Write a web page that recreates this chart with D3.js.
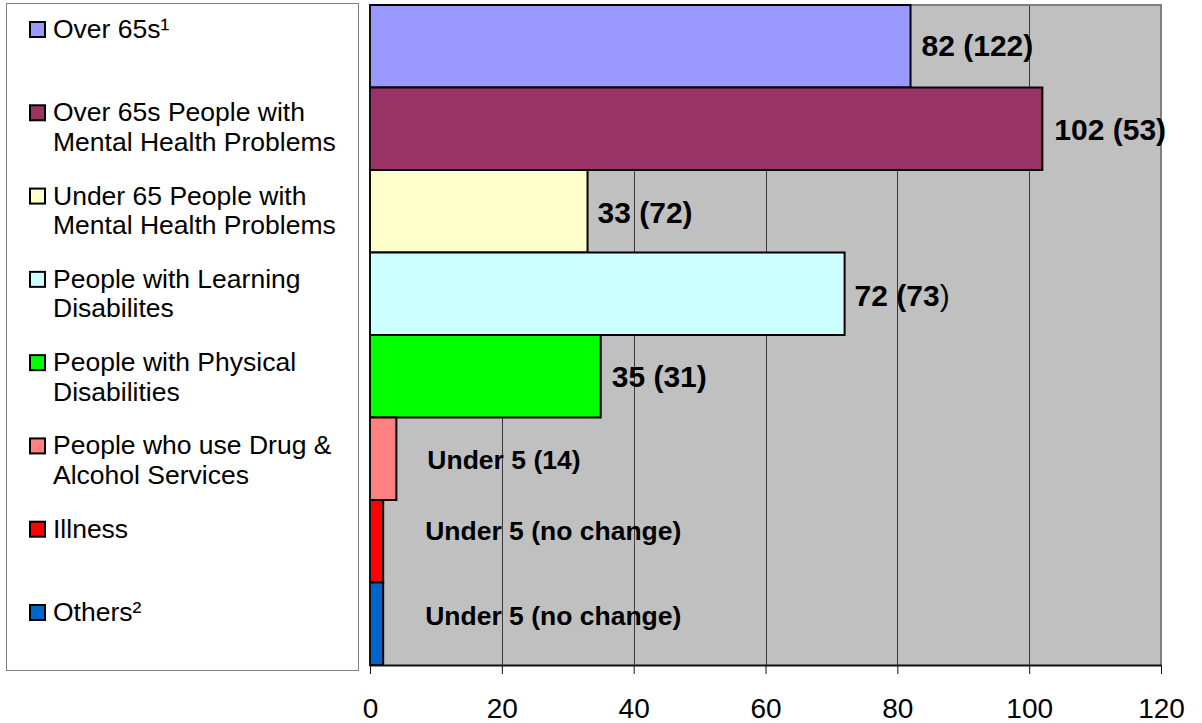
<!DOCTYPE html>
<html>
<head>
<meta charset="utf-8">
<script src="https://cdn.jsdelivr.net/npm/d3@7/dist/d3.min.js"></script>
<style>
  html, body { margin: 0; padding: 0; background: #ffffff; }
  svg { display: block; font-family: "Liberation Sans", Arial, sans-serif; }
</style>
</head>
<body>
<svg id="chart" width="1202" height="723"></svg>
<script>
// Client groups, top to bottom
const categories = [
  "Over 65s\u00B9",
  "Over 65s People with Mental Health Problems",
  "Under 65 People with Mental Health Problems",
  "People with Learning Disabilites",
  "People with Physical Disabilities",
  "People who use Drug & Alcohol Services",
  "Illness",
  "Others\u00B2"
];
// Legend wording, broken into lines
const legendLines = [
  ["Over 65s\u00B9"],
  ["Over 65s People with", "Mental Health Problems"],
  ["Under 65 People with", "Mental Health Problems"],
  ["People with Learning", "Disabilites"],
  ["People with Physical", "Disabilities"],
  ["People who use Drug &", "Alcohol Services"],
  ["Illness"],
  ["Others\u00B2"]
];
// Number of people in each group
const values = [82, 102, 33, 72, 35, 4, 2, 2];
// Bar labels: main text and the bracketed comparison
const labelMain = ["82", "102", "33", "72", "35", "Under 5", "Under 5", "Under 5"];
const labelPrev = ["(122)", "(53)", "(72)", "(73)", "(31)", "(14)", "(no change)", "(no change)"];
const colors = ["#9999FF", "#993366", "#FFFFCC", "#CCFFFF", "#00FF00", "#FF8080", "#FF0000", "#0066CC"];
const tickValues = [0, 20, 40, 60, 80, 100, 120];

// Layout
const plot = { left: 370, right: 1161, top: 5, bottom: 665 };
const legendBox = { x: 6, y: 3, w: 352, h: 667 };
// label nudges [dx from bar end, dy from band centre]
const labelNudge = [[11, -1], [12, 0], [10, 1], [10, 1], [11, 0], [31, 1], [42, -10], [42, -8]];

const svg = d3.select("#chart");

const x = d3.scaleLinear().domain([0, 120]).range([plot.left, plot.right]);
const y = d3.scaleBand().domain(categories).range([plot.top, plot.bottom]).paddingInner(0).paddingOuter(0);

// Plot background
svg.append("rect")
  .attr("x", plot.left).attr("y", plot.top)
  .attr("width", plot.right - plot.left).attr("height", plot.bottom - plot.top)
  .attr("fill", "#C0C0C0");

// Vertical gridlines
svg.append("g")
  .selectAll("line")
  .data(tickValues.filter(v => v > 0 && v < 120))
  .join("line")
  .attr("x1", d => Math.round(x(d)) + 0.5).attr("x2", d => Math.round(x(d)) + 0.5)
  .attr("y1", plot.top).attr("y2", plot.bottom)
  .attr("stroke", "#3a3a3a").attr("stroke-width", 1);

// Plot frame (top and right)
svg.append("path")
  .attr("d", `M${plot.left},${plot.top} H${plot.right} V${plot.bottom}`)
  .attr("fill", "none").attr("stroke", "#808080").attr("stroke-width", 2);

// Bars
svg.append("g")
  .selectAll("rect")
  .data(values)
  .join("rect")
  .attr("x", x(0))
  .attr("y", (d, i) => y(categories[i]))
  .attr("width", d => x(d) - x(0))
  .attr("height", y.bandwidth())
  .attr("fill", (d, i) => colors[i])
  .attr("stroke", "#000").attr("stroke-width", 2);

// Bottom axis
const xAxis = d3.axisBottom(x).tickValues(tickValues).tickSize(9).tickPadding(24).tickSizeOuter(0);
const ax = svg.append("g").attr("transform", `translate(0,${plot.bottom})`).call(xAxis);
ax.select(".domain").attr("stroke", "#111").attr("stroke-width", 2);
ax.selectAll(".tick line").attr("stroke", "#111").attr("stroke-width", 1);
ax.selectAll(".tick text")
  .attr("font-size", 28).attr("font-family", "Liberation Sans, Arial, sans-serif")
  .attr("fill", "#000");

// Left axis line
svg.append("line")
  .attr("x1", plot.left).attr("x2", plot.left)
  .attr("y1", plot.top).attr("y2", plot.bottom)
  .attr("stroke", "#111").attr("stroke-width", 2);

// Bar value labels
const labels = svg.append("g")
  .selectAll("text")
  .data(values)
  .join("text")
  .attr("x", (d, i) => x(d) + labelNudge[i][0])
  .attr("y", (d, i) => y(categories[i]) + y.bandwidth() / 2 + labelNudge[i][1])
  .attr("dominant-baseline", "central")
  .attr("font-weight", "bold")
  .attr("font-size", (d, i) => labelMain[i].startsWith("Under") ? 26.5 : 30)
  .attr("fill", "#000");

labels.each(function(d, i) {
  const t = d3.select(this);
  t.append("tspan").text(labelMain[i] + " ");
  if (i === 3) {
    // closing bracket in regular weight
    t.append("tspan").text(labelPrev[i].slice(0, -1));
    t.append("tspan").attr("font-weight", "normal").text(")");
  } else {
    t.append("tspan").text(labelPrev[i]);
  }
});

// Legend
svg.append("rect")
  .attr("x", legendBox.x + 0.5).attr("y", legendBox.y + 0.5)
  .attr("width", legendBox.w).attr("height", legendBox.h)
  .attr("fill", "#fff").attr("stroke", "#808080").attr("stroke-width", 1);

const legendStep = (621 - 38) / 7;
const legendItems = svg.append("g")
  .selectAll("g")
  .data(categories)
  .join("g")
  .attr("transform", (d, i) => `translate(0,${38 + i * legendStep})`);

legendItems.append("rect")
  .attr("x", 30).attr("y", -16)
  .attr("width", 15).attr("height", 15)
  .attr("fill", (d, i) => colors[i])
  .attr("stroke", "#000").attr("stroke-width", 2);

legendItems.append("text")
  .attr("x", 53).attr("y", 0)
  .attr("font-size", 26.5)
  .attr("fill", "#000")
  .each(function(d, i) {
    d3.select(this).selectAll("tspan")
      .data(legendLines[i])
      .join("tspan")
      .attr("x", 53)
      .attr("dy", (l, j) => j === 0 ? 0 : 29.5)
      .text(l => l);
  });
</script>
</body>
</html>
